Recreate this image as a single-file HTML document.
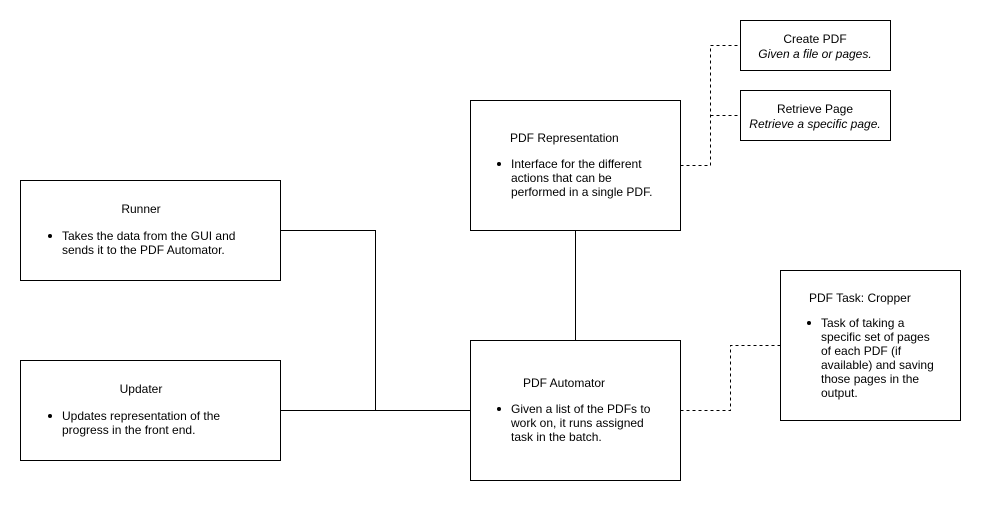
<!DOCTYPE html>
<html><head><meta charset="utf-8"><style>
html,body{margin:0;padding:0;background:#fff;}
svg text{font-family:"Liberation Sans",Arial,sans-serif;font-size:12px;fill:#000;}
</style></head><body>
<svg width="981" height="501" viewBox="0 0 981 501" xmlns="http://www.w3.org/2000/svg">
<g fill="none" stroke="#000" stroke-width="1">
<path d="M280.5 230.5H375.5V410.5"/>
<path d="M280.5 410.5H470.5"/>
<path d="M575.5 230.5V340.5"/>
<g stroke-dasharray="3,3">
<path d="M680.5 410.5H730.5V345.5H780.5"/>
<path d="M680.5 165.5H710.5V45.5H740.5"/>
<path d="M710.5 115.5H740.5"/>
</g>
<rect x="20.5" y="180.5" width="260" height="100" fill="#fff"/>
<rect x="20.5" y="360.5" width="260" height="100" fill="#fff"/>
<rect x="470.5" y="100.5" width="210" height="130" fill="#fff"/>
<rect x="470.5" y="340.5" width="210" height="140" fill="#fff"/>
<rect x="740.5" y="20.5" width="150" height="50" fill="#fff"/>
<rect x="740.5" y="90.5" width="150" height="50" fill="#fff"/>
<rect x="780.5" y="270.5" width="180" height="150" fill="#fff"/>
</g>
<g fill="#000">
<circle cx="50" cy="236" r="2"/>
<circle cx="50" cy="416" r="2"/>
<circle cx="499" cy="164" r="2"/>
<circle cx="499" cy="409" r="2"/>
<circle cx="809" cy="323" r="2"/>
</g>
<text x="141" y="213" text-anchor="middle">Runner</text>
<text x="62" y="240">Takes the data from the GUI and</text>
<text x="62" y="254">sends it to the PDF Automator.</text>
<text x="141" y="393" text-anchor="middle">Updater</text>
<text x="62" y="420">Updates representation of the</text>
<text x="62" y="434">progress in the front end.</text>
<text x="510" y="142">PDF Representation</text>
<text x="511" y="168">Interface for the different</text>
<text x="511" y="182">actions that can be</text>
<text x="511" y="196">performed in a single PDF.</text>
<text x="523" y="387">PDF Automator</text>
<text x="511" y="413">Given a list of the PDFs to</text>
<text x="511" y="427">work on, it runs assigned</text>
<text x="511" y="441">task in the batch.</text>
<text x="809" y="302">PDF Task: Cropper</text>
<text x="821" y="327">Task of taking a</text>
<text x="821" y="341">specific set of pages</text>
<text x="821" y="355">of each PDF (if</text>
<text x="821" y="369">available) and saving</text>
<text x="821" y="383">those pages in the</text>
<text x="821" y="397">output.</text>
<text x="815" y="43" text-anchor="middle">Create PDF</text>
<text x="815" y="58" text-anchor="middle" font-style="italic">Given a file or pages.</text>
<text x="815" y="113" text-anchor="middle">Retrieve Page</text>
<text x="815" y="128" text-anchor="middle" font-style="italic">Retrieve a specific page.</text>
</svg>
</body></html>
